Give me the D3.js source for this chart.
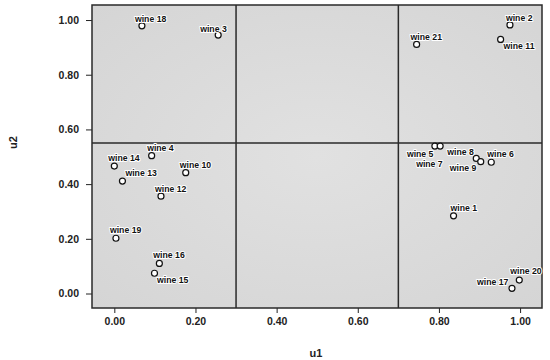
<!DOCTYPE html>
<html>
<head>
<meta charset="utf-8">
<script src="https://cdn.jsdelivr.net/npm/d3@7"></script>
<style>
  body { margin: 0; background: #fff; }
  svg { display: block; font-family: Arial, "Liberation Sans", sans-serif; }
  .tick text { font-size: 10.5px; font-weight: bold; fill: #222; }
  .tick line { stroke: #222; }
  .lbl { font-size: 8.7px; font-weight: bold; fill: #111; stroke: #fff; stroke-width: 2px; paint-order: stroke; stroke-linejoin: round; }
  .title { font-size: 11px; font-weight: bold; fill: #222; }
</style>
</head>
<body>
<svg id="chart" width="550" height="360"></svg>
<script>
// wines
var wineNames = ["wine 1", "wine 2", "wine 3", "wine 4", "wine 5", "wine 6", "wine 7",
                 "wine 8", "wine 9", "wine 10", "wine 11", "wine 12", "wine 13", "wine 14",
                 "wine 15", "wine 16", "wine 17", "wine 18", "wine 19", "wine 20", "wine 21"];
var u1Values = [0.836, 0.975, 0.256, 0.092, 0.790, 0.929, 0.803,
                0.892, 0.903, 0.176, 0.952, 0.115, 0.020, 0.000,
                0.099, 0.111, 0.980, 0.068, 0.004, 0.998, 0.745];
var u2Values = [0.284, 0.982, 0.945, 0.504, 0.539, 0.480, 0.539,
                0.494, 0.482, 0.442, 0.929, 0.356, 0.411, 0.466,
                0.074, 0.110, 0.019, 0.979, 0.202, 0.049, 0.911];

var tickValues = [0, 0.2, 0.4, 0.6, 0.8, 1.0];
var u1Cuts = [0.30, 0.70];
var u2Cuts = [0.55];

// where each label sits relative to its point (px)
var labelOffsets = {
    "wine 1": [-3, -5],  "wine 2": [-4, -4],  "wine 3": [-18, -3], "wine 4": [-4.5, -4.5],
    "wine 5": [-28, 11], "wine 6": [-4, -5],  "wine 7": [-24, 21], "wine 8": [-29, -3],
    "wine 9": [-31, 9],  "wine 10": [-6, -5], "wine 11": [3, 10],  "wine 12": [-6, -4],
    "wine 13": [3, -5],  "wine 14": [-6, -5], "wine 15": [2.5, 10], "wine 16": [-6, -5],
    "wine 17": [-35, -3], "wine 18": [-7, -4], "wine 19": [-6, -5], "wine 20": [-9, -6],
    "wine 21": [-6, -4]
};

var points = wineNames.map(function(n, i) {
    return { name: n, u1: u1Values[i], u2: u2Values[i] };
});

var svg = d3.select("#chart");
var plotL = 92, plotR = 542, plotT = 5, plotB = 308;

var x = d3.scaleLinear().domain([-0.055, 1.054]).range([plotL, plotR]);
var y = d3.scaleLinear().domain([-0.053, 1.055]).range([plotB, plotT]);

// background gradient
var defs = svg.append("defs");
var grad = defs.append("radialGradient").attr("id", "bg")
    .attr("cx", "50%").attr("cy", "50%").attr("r", "70%");
grad.append("stop").attr("offset", "0%").attr("stop-color", "#e1e1e1");
grad.append("stop").attr("offset", "100%").attr("stop-color", "#d5d5d5");

svg.append("rect")
    .attr("x", plotL).attr("y", plotT)
    .attr("width", plotR - plotL).attr("height", plotB - plotT)
    .attr("fill", "url(#bg)");

// axes
var yAxis = d3.axisLeft(y).tickValues(tickValues)
    .tickFormat(d3.format(".2f")).tickSize(6).tickPadding(7);
var xAxis = d3.axisBottom(x).tickValues(tickValues)
    .tickFormat(d3.format(".2f")).tickSize(5).tickPadding(5);

svg.append("g").attr("transform", "translate(" + plotL + ",0)").call(yAxis)
    .call(function(g) { g.select(".domain").remove(); });
svg.append("g").attr("transform", "translate(0," + plotB + ")").call(xAxis)
    .call(function(g) { g.select(".domain").remove(); });

// quadrant dividers
svg.selectAll("line.vcut").data(u1Cuts).enter().append("line")
    .attr("class", "vcut")
    .attr("x1", function(d) { return x(d); }).attr("x2", function(d) { return x(d); })
    .attr("y1", plotT).attr("y2", plotB)
    .attr("stroke", "#2a2a2a").attr("stroke-width", 1.5);
svg.selectAll("line.hcut").data(u2Cuts).enter().append("line")
    .attr("class", "hcut")
    .attr("y1", function(d) { return y(d); }).attr("y2", function(d) { return y(d); })
    .attr("x1", plotL).attr("x2", plotR)
    .attr("stroke", "#2a2a2a").attr("stroke-width", 1.5);

// frame
svg.append("rect")
    .attr("x", plotL).attr("y", plotT)
    .attr("width", plotR - plotL).attr("height", plotB - plotT)
    .attr("fill", "none").attr("stroke", "#2a2a2a").attr("stroke-width", 1.5);

// points
svg.selectAll("circle.pt").data(points).enter().append("circle")
    .attr("class", "pt")
    .attr("cx", function(d) { return x(d.u1); })
    .attr("cy", function(d) { return y(d.u2); })
    .attr("r", 3)
    .attr("fill", "#fff").attr("stroke", "#111").attr("stroke-width", 1.2);

svg.selectAll("text.lbl").data(points).enter().append("text")
    .attr("class", "lbl")
    .attr("x", function(d) { return x(d.u1) + labelOffsets[d.name][0]; })
    .attr("y", function(d) { return y(d.u2) + labelOffsets[d.name][1]; })
    .text(function(d) { return d.name; });

// axis titles
svg.append("text").attr("class", "title")
    .attr("x", (plotL + plotR) / 2 - 1).attr("y", 357)
    .attr("text-anchor", "middle").text("u1");
svg.append("text").attr("class", "title")
    .attr("transform", "translate(17," + ((plotT + plotB) / 2 - 14) + ") rotate(-90)")
    .attr("text-anchor", "middle").text("u2");
</script>
</body>
</html>
